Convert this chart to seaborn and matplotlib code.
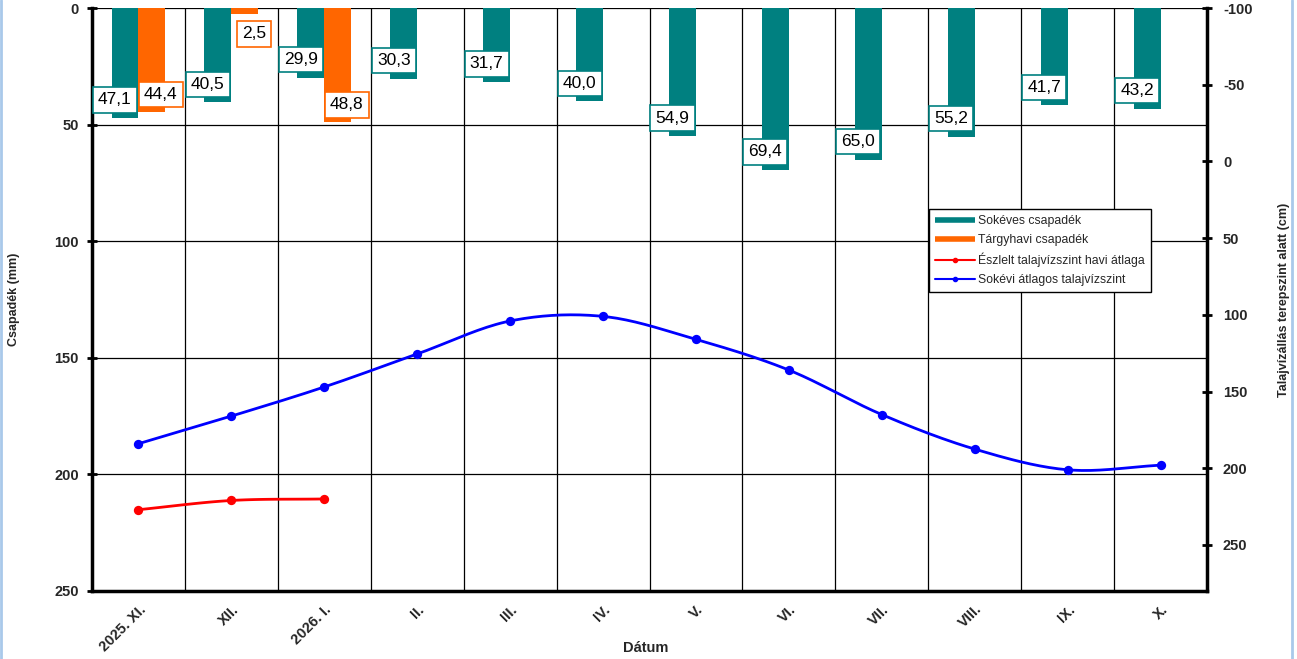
import numpy as np
import pandas as pd
import matplotlib
matplotlib.use("Agg")
import matplotlib.pyplot as plt
import seaborn as sns
from matplotlib.lines import Line2D

# --- data -------------------------------------------------------------
months = ["2025. XI.", "XII.", "2026. I.", "II.", "III.", "IV.",
          "V.", "VI.", "VII.", "VIII.", "IX.", "X."]
longterm_precip = [47.1, 40.5, 29.9, 30.3, 31.7, 40.0, 54.9, 69.4, 65.0, 55.2, 41.7, 43.2]
monthly_precip = [44.4, 2.5, 48.8, np.nan, np.nan, np.nan,
                  np.nan, np.nan, np.nan, np.nan, np.nan, np.nan]
observed_level = [227, 221, 220]
longterm_level = [184, 166, 147, 125.5, 104, 101, 116, 136, 165, 187.5, 201, 198]

series_names = ["Sokéves csapadék", "Tárgyhavi csapadék",
                "Észlelt talajvízszint havi átlaga", "Sokévi átlagos talajvízszint"]

TEAL = "#008080"
ORANGE = "#ff6600"
RED = "#ff0000"
BLUE = "#0000ff"

sns.set_theme(style="white")
plt.rcParams["font.family"] = ["Liberation Sans", "DejaVu Sans"]
plt.rcParams["axes.unicode_minus"] = False

fig = plt.figure(figsize=(12.97, 6.59), dpi=100)
ax = fig.add_axes([92 / 1297, 1 - 591 / 659, (1207 - 92) / 1297, (591 - 8) / 659])

# --- precipitation bars (left axis, hanging from the top) -------------
df = pd.DataFrame({
    "Hónap": months * 2,
    "Csapadék": longterm_precip + monthly_precip,
    "Sor": [series_names[0]] * len(months) + [series_names[1]] * len(months),
})
sns.barplot(data=df, x="Hónap", y="Csapadék", hue="Sor", order=months,
            hue_order=series_names[:2], palette=[TEAL, ORANGE], width=0.58,
            saturation=1, legend=False, ax=ax, linewidth=0, zorder=2)

ax.set_xlim(-0.5, len(months) - 0.5)
ax.set_ylim(250, 0)
ax.set_yticks(np.arange(0, 251, 50))

# value labels in boxes
def fmt(v):
    return f"{v:.1f}".replace(".", ",")

half = 0.58 / 4
for i, v in enumerate(longterm_precip):
    ax.annotate(fmt(v), xy=(i - half, v), xytext=(-10, 18), textcoords="offset pixels",
                ha="center", va="center", fontsize=12.5, color="black", zorder=5,
                bbox=dict(boxstyle="square,pad=0.3", fc="white", ec=TEAL, lw=1.2))
for i, v in enumerate(monthly_precip):
    if np.isnan(v):
        continue
    dy = -20 if v < 10 else 17
    ax.annotate(fmt(v), xy=(i + half, v), xytext=(9, dy), textcoords="offset pixels",
                ha="center", va="center", fontsize=12.5, color="black", zorder=5,
                bbox=dict(boxstyle="square,pad=0.3", fc="white", ec=ORANGE, lw=1.2))

# grid: horizontal at value ticks, vertical at month boundaries
ax.set_xticks(np.arange(len(months)))
ax.set_xticks(np.arange(len(months) + 1) - 0.5, minor=True)
ax.grid(False)
ax.grid(True, axis="y", which="major", color="black", lw=0.9, zorder=0)
ax.grid(True, axis="x", which="minor", color="black", lw=0.9, zorder=0)
ax.set_axisbelow(True)

ax.set_xticklabels(months, rotation=45, ha="right", rotation_mode="anchor",
                   fontsize=10.5, fontweight="bold")
ax.tick_params(axis="x", which="major", length=0, pad=8)
ax.tick_params(axis="x", which="minor", length=7, width=2, direction="inout", color="black")
ax.tick_params(axis="y", length=7, width=2, direction="inout", color="black",
               labelsize=10.5, pad=6)
for t in ax.get_yticklabels():
    t.set_fontweight("bold")

for side in ["left", "bottom"]:
    ax.spines[side].set_color("black")
    ax.spines[side].set_linewidth(2.5)
ax.spines["top"].set_visible(False)
ax.spines["right"].set_visible(False)

ax.set_xlabel("Dátum", fontsize=10.5, fontweight="bold")
ax.xaxis.set_label_coords(0.497, -0.098)
ax.xaxis.label.set_va("center")
ax.set_ylabel("Csapadék (mm)", fontsize=9, fontweight="bold")
ax.yaxis.set_label_coords(-0.0700, 0.5)
ax.yaxis.label.set_va("center")
ax.yaxis.label.set_ha("center")

# --- groundwater levels (right axis) ----------------------------------
ax2 = ax.twinx()
ax2.set_ylim(280, -100)
ax2.set_yticks(np.arange(-100, 251, 50))
ax2.tick_params(axis="y", length=7, width=2, direction="inout", color="black",
                labelsize=10.5, pad=8)
for t in ax2.get_yticklabels():
    t.set_fontweight("bold")
for side in ["left", "bottom", "top"]:
    ax2.spines[side].set_visible(False)
ax2.spines["right"].set_color("black")
ax2.spines["right"].set_linewidth(2.5)
ax2.grid(False)
ax2.set_ylabel("Talajvízállás terepszint alatt (cm)", fontsize=9, fontweight="bold")
ax2.yaxis.set_label_coords(1.0695, 0.5)
ax2.yaxis.label.set_va("center")
ax2.yaxis.label.set_ha("center")


def smooth(xs, ys, n=20):
    """Catmull-Rom curve through the given points."""
    xs = np.asarray(xs, float)
    ys = np.asarray(ys, float)
    if len(xs) < 3:
        return xs, ys
    px = np.concatenate([[2 * xs[0] - xs[1]], xs, [2 * xs[-1] - xs[-2]]])
    py = np.concatenate([[2 * ys[0] - ys[1]], ys, [2 * ys[-1] - ys[-2]]])
    outx, outy = [], []
    t = np.linspace(0, 1, n, endpoint=False)
    for k in range(1, len(px) - 2):
        for arr, out in ((px, outx), (py, outy)):
            p0, p1, p2, p3 = arr[k - 1], arr[k], arr[k + 1], arr[k + 2]
            out.extend(0.5 * ((2 * p1) + (-p0 + p2) * t
                              + (2 * p0 - 5 * p1 + 4 * p2 - p3) * t ** 2
                              + (-p0 + 3 * p1 - 3 * p2 + p3) * t ** 3))
    outx.append(xs[-1])
    outy.append(ys[-1])
    return np.array(outx), np.array(outy)


for values, color in ((longterm_level, BLUE), (observed_level, RED)):
    xi = np.arange(len(values))
    sx, sy = smooth(xi, values)
    ax2.plot(sx, sy, color=color, lw=2, zorder=3)
    sns.scatterplot(x=xi, y=values, color=color, s=45, edgecolor=color,
                    linewidth=0, ax=ax2, zorder=4, legend=False)

handles = [
    Line2D([], [], color=TEAL, lw=4, solid_capstyle="butt"),
    Line2D([], [], color=ORANGE, lw=4, solid_capstyle="butt"),
    Line2D([], [], color=RED, lw=1.5, marker="o", markersize=3),
    Line2D([], [], color=BLUE, lw=1.5, marker="o", markersize=3),
]
leg = ax2.legend(handles, series_names, loc="upper left",
                 bbox_to_anchor=(0.751, 0.655), fontsize=8.8, frameon=True,
                 fancybox=False, edgecolor="black", framealpha=1,
                 handlelength=3.2, labelspacing=0.55, borderpad=0.5,
                 handletextpad=0.3, borderaxespad=0)
leg.get_frame().set_linewidth(1)

# thin light-blue page border
for xpos in (0.0008, 0.9965):
    fig.add_artist(Line2D([xpos, xpos], [0, 1], transform=fig.transFigure,
                          color="#a9c9ea", lw=2))

fig.savefig("out.png", dpi=100)
